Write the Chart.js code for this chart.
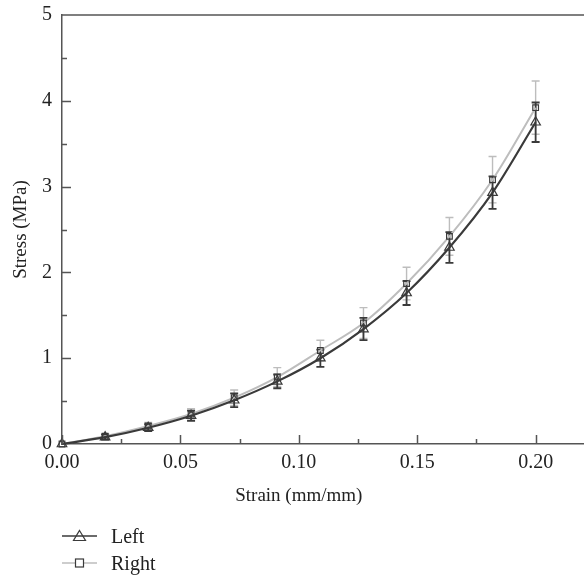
<!DOCTYPE html>
<html>
<head>
<meta charset="utf-8">
<script src="https://cdn.jsdelivr.net/npm/chart.js@4/dist/chart.umd.min.js"></script>
<style>
  html, body { margin: 0; padding: 0; background: #fff; }
  #wrap { position: relative; width: 584px; height: 579px; }
  #c { position: absolute; left: 0; top: 0; }
  .leg { position: absolute; left: 62px; font-family: 'Liberation Serif', serif; font-size: 20px; color: #222; display: flex; align-items: center; height: 24px; }
  .leg svg { margin-right: 14px; }
</style>
</head>
<body>
<div id="wrap">
  <canvas id="c" width="584" height="579"></canvas>
  <div class="leg" style="top:524px;">
    <svg width="35" height="14"><line x1="0" y1="7" x2="35" y2="7" stroke="#3a3a3a" stroke-width="1.6"/><polygon points="17.5,1.5 23.5,11.5 11.5,11.5" fill="none" stroke="#3a3a3a" stroke-width="1.2"/></svg>
    <span>Left</span>
  </div>
  <div class="leg" style="top:551px;">
    <svg width="35" height="14"><line x1="0" y1="7" x2="35" y2="7" stroke="#bdbdbd" stroke-width="1.6"/><rect x="13.5" y="3" width="8" height="8" fill="#fff" stroke="#3a3a3a" stroke-width="1.2"/></svg>
    <span>Right</span>
  </div>
</div>
<script>
const strain = [0, 0.0182, 0.0364, 0.0545, 0.0727, 0.0909, 0.1091, 0.1273, 0.1455, 0.1636, 0.1818, 0.2];
const leftStress = [0, 0.08, 0.19, 0.33, 0.51, 0.73, 1.00, 1.34, 1.76, 2.29, 2.93, 3.75];
const rightStress = [0, 0.09, 0.21, 0.35, 0.54, 0.78, 1.09, 1.41, 1.87, 2.42, 3.08, 3.92];
const leftErr = [0, 0.03, 0.04, 0.06, 0.08, 0.08, 0.10, 0.13, 0.14, 0.18, 0.19, 0.23];
const rightErr = [0, 0.03, 0.04, 0.06, 0.09, 0.11, 0.12, 0.18, 0.19, 0.22, 0.27, 0.31];
const xTicks = [0, 0.05, 0.10, 0.15, 0.20];
const yTicks = [0, 1, 2, 3, 4, 5];
const xTitle = 'Strain (mm/mm)';
const yTitle = 'Stress (MPa)';

const FONT = "'Liberation Serif', serif";
const DARK = '#3a3a3a';
const LIGHT = '#bdbdbd';

function pts(ys) { return strain.map((x, i) => ({ x: x, y: ys[i] })); }

const noScalePadding = {
  id: 'noScalePadding',
  beforeLayout(chart) {
    Object.values(chart.scales).forEach(s => {
      s.getPadding = () => ({ left: 0, top: 0, right: 0, bottom: 0 });
    });
  }
};

const errorBars = {
  id: 'errorBars',
  beforeDatasetsDraw(chart) {
    const ctx = chart.ctx, xs = chart.scales.x, ys = chart.scales.y;
    const sets = [
      { vals: rightStress, err: rightErr, color: LIGHT, w: 1.4 },
      { vals: leftStress, err: leftErr, color: DARK, w: 1.8 }
    ];
    ctx.save();
    sets.forEach(s => {
      ctx.strokeStyle = s.color; ctx.lineWidth = s.w;
      strain.forEach((xv, i) => {
        if (!s.err[i]) return;
        const px = xs.getPixelForValue(xv);
        const top = ys.getPixelForValue(s.vals[i] + s.err[i]);
        const bot = ys.getPixelForValue(s.vals[i] - s.err[i]);
        ctx.beginPath();
        ctx.moveTo(px, top); ctx.lineTo(px, bot);
        ctx.moveTo(px - 4, top); ctx.lineTo(px + 4, top);
        ctx.moveTo(px - 4, bot); ctx.lineTo(px + 4, bot);
        ctx.stroke();
      });
    });
    ctx.restore();
  }
};

const frame = {
  id: 'frame',
  afterDraw(chart) {
    const ctx = chart.ctx, xs = chart.scales.x, ys = chart.scales.y, a = chart.chartArea;
    ctx.save();
    ctx.strokeStyle = '#555'; ctx.lineWidth = 1.5;
    ctx.beginPath(); ctx.moveTo(a.left, a.top); ctx.lineTo(chart.width, a.top); ctx.stroke();
    ctx.beginPath();
    for (let v = 0; v <= 0.2001; v += 0.025) {
      const major = Math.abs(v / 0.05 - Math.round(v / 0.05)) < 1e-6;
      const px = Math.round(xs.getPixelForValue(v)) + 0.5;
      ctx.moveTo(px, a.bottom); ctx.lineTo(px, a.bottom - (major ? 9 : 5));
    }
    for (let v = 0.5; v <= 4.51; v += 0.5) {
      const major = Math.abs(v - Math.round(v)) < 1e-6;
      const py = Math.round(ys.getPixelForValue(v)) + 0.5;
      ctx.moveTo(a.left, py); ctx.lineTo(a.left + (major ? 9 : 5), py);
    }
    ctx.stroke();
    ctx.fillStyle = '#222';
    ctx.font = '19px ' + FONT;
    ctx.textAlign = 'center'; ctx.textBaseline = 'middle';
    ctx.fillText(xTitle, xs.getPixelForValue((xTicks[0] + xTicks[xTicks.length - 1]) / 2), 496);
    ctx.restore();
  }
};

new Chart(document.getElementById('c'), {
  type: 'line',
  data: {
    datasets: [
      {
        label: 'Left', data: pts(leftStress), order: 0,
        borderColor: DARK, borderWidth: 2.2, backgroundColor: 'rgba(0,0,0,0)',
        pointStyle: 'triangle', pointRadius: 5.5, pointBorderWidth: 1.2,
        pointBorderColor: DARK, pointBackgroundColor: 'rgba(0,0,0,0)',
        cubicInterpolationMode: 'monotone', fill: false
      },
      {
        label: 'Right', data: pts(rightStress), order: 1,
        borderColor: LIGHT, borderWidth: 2, backgroundColor: 'rgba(0,0,0,0)',
        pointStyle: 'rect', pointRadius: 4, pointBorderWidth: 1.2,
        pointBorderColor: DARK, pointBackgroundColor: 'rgba(0,0,0,0)',
        cubicInterpolationMode: 'monotone', fill: false
      }
    ]
  },
  options: {
    responsive: false,
    animation: false,
    devicePixelRatio: 1,
    clip: false,
    layout: { autoPadding: false, padding: { top: 15, right: 1, bottom: 95, left: 0 } },
    plugins: { legend: { display: false }, tooltip: { enabled: false } },
    scales: {
      x: {
        type: 'linear', min: 0, max: 0.22,
        grid: { display: false, drawTicks: false },
        border: { display: true, color: '#555', width: 1.5 },
        afterFit(s) { s.height = 40; s.paddingLeft = 0; s.paddingRight = 0; },
        afterBuildTicks(s) { s.ticks = xTicks.map(v => ({ value: v })); },
        ticks: {
          padding: 7, color: '#222', font: { family: FONT, size: 20 },
          maxRotation: 0, autoSkip: false,
          callback: v => Number(v).toFixed(2)
        }
      },
      y: {
        type: 'linear', min: 0, max: 5,
        grid: { display: false, drawTicks: false },
        border: { display: true, color: '#555', width: 1.5 },
        afterFit(s) { s.width = 62; s.paddingTop = 0; s.paddingBottom = 0; },
        afterBuildTicks(s) { s.ticks = yTicks.map(v => ({ value: v })); },
        ticks: {
          padding: 10, color: '#222', font: { family: FONT, size: 20 },
          callback: v => String(v)
        },
        title: { display: true, text: yTitle, color: '#222', font: { family: FONT, size: 19 }, padding: { top: 10, bottom: 0 } }
      }
    }
  },
  plugins: [noScalePadding, errorBars, frame]
});
</script>
</body>
</html>
